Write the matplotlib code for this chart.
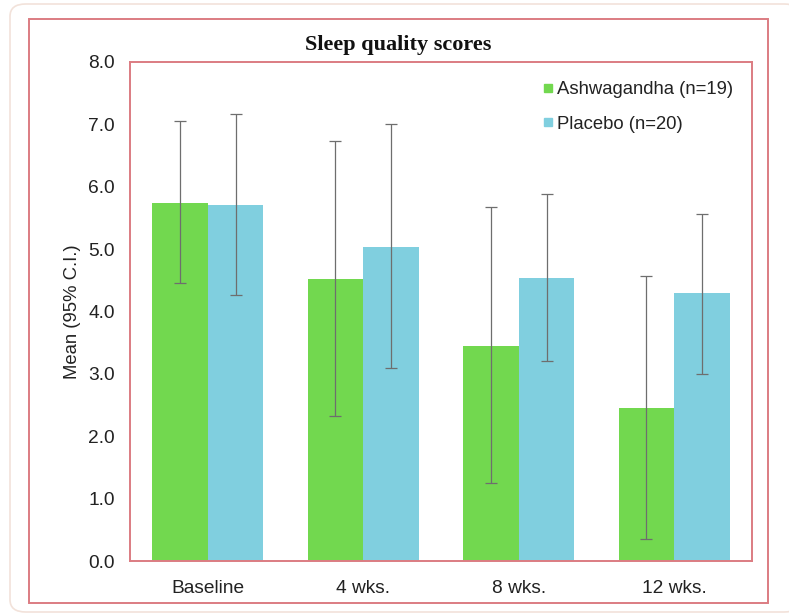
import matplotlib
matplotlib.use("Agg")
import matplotlib.pyplot as plt
import numpy as np
from matplotlib.patches import Rectangle, FancyBboxPatch
from matplotlib.lines import Line2D

# Sleep quality scores: means with 95% confidence limits
timepoints = ["Baseline", "4 wks.", "8 wks.", "12 wks."]
ashwa_mean = [5.74, 4.52, 3.45, 2.46]
ashwa_low = [4.45, 2.32, 1.25, 0.35]
ashwa_high = [7.05, 6.73, 5.67, 4.57]
placebo_mean = [5.70, 5.03, 4.54, 4.29]
placebo_low = [4.27, 3.10, 3.20, 3.00]
placebo_high = [7.16, 7.00, 5.88, 5.57]
series_labels = ["Ashwagandha (n=19)", "Placebo (n=20)"]
yticks = [0.0, 1.0, 2.0, 3.0, 4.0, 5.0, 6.0, 7.0, 8.0]

green = "#72d84f"
blue = "#80cfdf"
frame_red = "#dc7c82"
err_col = "#6e6e6e"

W, H = 789, 616
fig = plt.figure(figsize=(W / 100, H / 100), dpi=100)
fig.patch.set_facecolor("white")

# page card behind the chart
fig.patches.append(FancyBboxPatch((10 / W, 4 / H), 790 / W, 608 / H,
                                  boxstyle="round,pad=0,rounding_size=0.02",
                                  transform=fig.transFigure, facecolor="white",
                                  edgecolor="#f2e2da", linewidth=1.2, zorder=-5))
# outer chart frame
fig.patches.append(Rectangle((29 / W, (H - 603) / H), 739 / W, 584 / H,
                             transform=fig.transFigure, fill=False,
                             edgecolor=frame_red, linewidth=1.4, zorder=-4))

ax = fig.add_axes([130 / W, (H - 561) / H, 622 / W, 499 / H])

x = np.arange(len(timepoints))
bw = 0.357
a_mean = np.array(ashwa_mean)
p_mean = np.array(placebo_mean)
a_err = np.vstack([a_mean - np.array(ashwa_low), np.array(ashwa_high) - a_mean])
p_err = np.vstack([p_mean - np.array(placebo_low), np.array(placebo_high) - p_mean])

ekw = dict(ecolor=err_col, elinewidth=0.9, capsize=4, capthick=0.9)
ax.bar(x - bw / 2, a_mean, bw, color=green, yerr=a_err, error_kw=ekw, zorder=2)
ax.bar(x + bw / 2, p_mean, bw, color=blue, yerr=p_err, error_kw=ekw, zorder=2)

ax.set_xlim(-0.5, len(timepoints) - 0.5)
ax.set_ylim(0, 8)
ax.set_yticks(yticks)
ax.set_yticklabels([f"{v:.1f}" for v in yticks])
ax.set_xticks(x)
ax.set_xticklabels(timepoints)

font = ["Liberation Sans", "DejaVu Sans"]
ax.tick_params(axis="both", length=0, labelsize=13.8, colors="#222222")
ax.tick_params(axis="y", pad=11)
ax.tick_params(axis="x", pad=14)
for lab in ax.get_xticklabels() + ax.get_yticklabels():
    lab.set_fontfamily(font)

for sp in ax.spines.values():
    sp.set_color(frame_red)
    sp.set_linewidth(1.4)

ax.set_ylabel("Mean (95% C.I.)", fontsize=13.3, family=font, color="#222222", labelpad=5)

fig.text(398 / W, 1 - 45 / H, "Sleep quality scores", ha="center", va="center",
         fontsize=16, fontweight="bold", family=["Liberation Serif", "DejaVu Serif"],
         color="#111111")

handles = [Line2D([], [], linestyle="none", marker="s", markersize=6,
                  markerfacecolor=c, markeredgecolor=c) for c in (green, blue)]
leg = ax.legend(handles, series_labels, loc="upper left",
                bbox_to_anchor=(542 / W, 1 - 81 / H), bbox_transform=fig.transFigure,
                frameon=False, handlelength=0.6, handletextpad=0.2,
                labelspacing=0.95, borderpad=0, borderaxespad=0,
                prop={"family": font, "size": 13.3})
for t in leg.get_texts():
    t.set_color("#222222")

fig.savefig("out.png", dpi=100)
